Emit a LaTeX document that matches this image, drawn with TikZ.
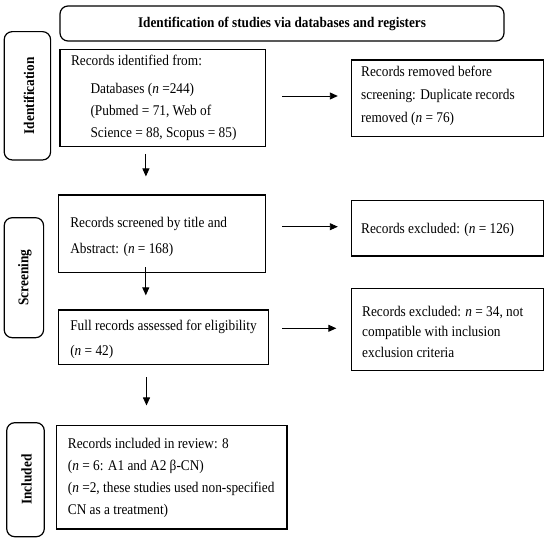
\documentclass[tikz,border=0pt]{standalone}
\usepackage{fontspec}
\setmainfont{Liberation Serif}[FakeStretch=0.9]
\usetikzlibrary{arrows.meta}
\begin{document}
\begin{tikzpicture}[x=1pt,y=-1pt,
  box/.style={draw=black,line width=1.2pt,inner sep=0pt,rectangle},
  rbox/.style={draw=black,line width=1.2pt,inner sep=0pt,rectangle,rounded corners=8pt},
  txt/.style={inner sep=0pt,align=left,anchor=west,font=\fontsize{14.8}{22}\selectfont},
  side/.style={inner sep=0pt,rotate=90,font=\fontsize{14.8}{16}\selectfont\bfseries},
  arr/.style={line width=0.9pt,-{Triangle[length=8pt,width=7pt]}}]
\useasboundingbox (0,0) rectangle (550,540);
\fill[white] (0,0) rectangle (550,540);
% header
\node[rbox,minimum width=444pt,minimum height=35pt] (hdr) at (282,23.5) {};
\node[inner sep=0pt,font=\fontsize{14.7}{16}\selectfont\bfseries] (hdrt) at (hdr.center) {Identification of studies via databases and registers};
% side labels
\node[rbox,minimum width=46.4pt,minimum height=128.3pt] (sid1) at (27.4,95.8) {};
\node[side] (sid1t) at ([xshift=1.5pt]sid1.center) {Identification};
\node[rbox,minimum width=39.4pt,minimum height=120pt] (sid2) at (23.9,277.7) {};
\node[side] (sid2t) at ([xshift=1pt]sid2.center) {Screening};
\node[rbox,minimum width=37.6pt,minimum height=114pt] (sid3) at (25.5,479.7) {};
\node[side] (sid3t) at ([xshift=1pt]sid3.center) {Included};
% boxes
\node[box,minimum width=205.8pt,minimum height=97.4pt] (b1) at (162.9,98) {};
\node[txt] (b1t) at (70.8,97.5) {Records identified from:\\[6pt]
\hspace*{19.5pt}Databases (\textit{n} =244)\\
\hspace*{19.5pt}(Pubmed = 71, Web of\\
\hspace*{19.5pt}Science = 88, Scopus = 85)};
\node[box,minimum width=192pt,minimum height=76.7pt] (rm) at (447.4,98.3) {};
\node[txt] (rmt) at (361,95.5) {Records removed before\\[1pt]
screening: Duplicate records\\[1pt]
removed (\textit{n} = 76)};
\node[box,minimum width=207.2pt,minimum height=77.3pt] (sc) at (162.2,233.7) {};
\node[txt] (sct) at (70.1,236.7) {Records screened by title and\\[4.5pt]
Abstract: (\textit{n} = 168)};
\node[box,minimum width=192pt,minimum height=55.3pt] (ex1) at (447.4,228.3) {};
\node[txt] (ex1t) at (361,230) {Records excluded: (\textit{n} = 126)};
\node[box,minimum width=210pt,minimum height=54.7pt] (fu) at (163.6,337.3) {};
\node[txt] (fut) at (70.1,339.2) {Full records assessed for eligibility\\[3pt]
(\textit{n} = 42)};
\node[box,minimum width=192pt,minimum height=82.4pt] (ex2) at (447.4,329.5) {};
\node[txt] (ex2t) at (362,331.8) {Records excluded: \textit{n} = 34, not\\[-1.5pt]
compatible with inclusion\\[-1.5pt]
exclusion criteria};
\node[box,minimum width=230.3pt,minimum height=103.3pt] (inc) at (171.9,477.4) {};
\node[txt] (inct) at (67.7,478) {Records included in review: 8\\
(\textit{n} = 6: A1 and A2 β-CN)\\
(\textit{n} =2, these studies used non-specified\\
CN as a treatment)};
% arrows
\draw[arr] ([xshift=16pt,yshift=2pt]b1.east) -- ([xshift=-13pt,yshift=2pt]b1.east -| rm.west);
\draw[arr] ([xshift=16pt,yshift=1.6pt]sc.east |- ex1.west) -- ([xshift=-13pt,yshift=1.6pt]ex1.west);
\draw[arr] ([xshift=13.2pt,yshift=1.2pt]fu.east |- ex2.west) -- ([xshift=-14.5pt,yshift=1.2pt]ex2.west);
\draw[arr] ([xshift=-17pt,yshift=-6.6pt]b1.south) -- ([xshift=-17pt,yshift=18pt]b1.south |- sc.north);
\draw[arr] ([xshift=-16.4pt,yshift=5.6pt]sc.south) -- ([xshift=-16.4pt,yshift=14pt]sc.south |- fu.north);
\draw[arr] ([xshift=-17.1pt,yshift=-12pt]fu.south) -- ([xshift=-17.1pt,yshift=19.7pt]fu.south |- inc.north);
\end{tikzpicture}
\end{document}
